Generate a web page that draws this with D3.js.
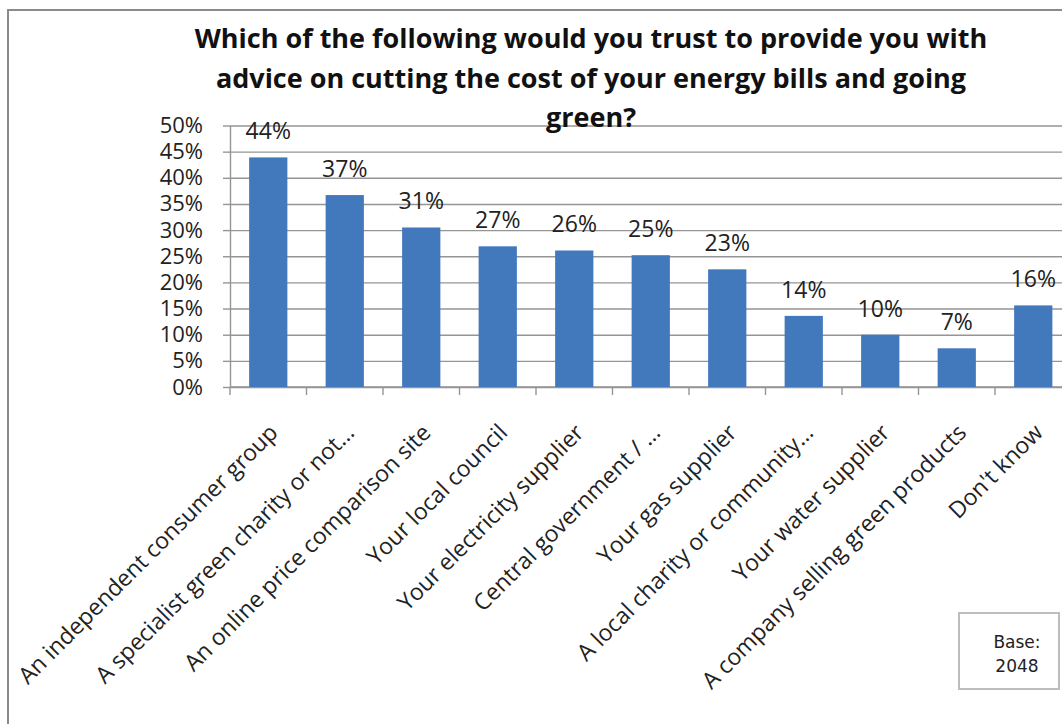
<!DOCTYPE html>
<html>
<head>
<meta charset="utf-8">
<script src="https://cdn.jsdelivr.net/npm/d3@7"></script>
<style>
  body { margin: 0; background: #fff; }
  #chart { font-family: 'Open Sans', sans-serif; }
</style>
</head>
<body>
<div id="chart"></div>
<script>
// data
const categories = [
	'An independent consumer group',
	'A specialist green charity or not\u2026',
	'An online price comparison site',
	'Your local council',
	'Your electricity supplier',
	'Central government / \u2026',
	'Your gas supplier',
	'A local charity or community\u2026',
	'Your water supplier',
	'A company selling green products',
	"Don't know"
];
const values = [43.9, 36.7, 30.5, 26.9, 26.1, 25.2, 22.5, 13.6, 10.0, 7.4, 15.6];
const yTicks = [0, 5, 10, 15, 20, 25, 30, 35, 40, 45, 50];
const titleLines = [
	'Which of the following would you trust to provide you with',
	'advice on cutting the cost of your energy bills and going',
	'green?'
];
const baseLines = ['Base:', '2048'];

const W = 1062, H = 724;
const plot = { left: 230, top: 125.5, bottom: 387, step: 76.5 };
const plotRight = plot.left + plot.step * categories.length;

const svg = d3.select('#chart').append('svg')
	.attr('width', W)
	.attr('height', H);

// outer chart border (runs off the right and bottom of the picture)
svg.append('rect')
	.attr('x', 8)
	.attr('y', 10)
	.attr('width', 1200)
	.attr('height', 900)
	.attr('fill', '#fff')
	.attr('stroke', '#8a8a8a')
	.attr('stroke-width', 2);

const xScale = d3.scaleBand()
	.domain(categories)
	.range([plot.left, plotRight])
	.paddingInner(0.5)
	.paddingOuter(0.25);

const yScale = d3.scaleLinear()
	.domain([0, 50])
	.range([plot.bottom, plot.top]);

// horizontal grid lines
svg.append('g')
	.attr('class', 'grid')
	.attr('transform', `translate(${plot.left}, 0)`)
	.call(d3.axisLeft(yScale)
		.tickValues(yTicks)
		.tickSize(-(plotRight - plot.left))
		.tickFormat('')
	)
	.call(g => g.select('.domain').remove())
	.call(g => g.selectAll('.tick line')
		.attr('stroke', '#959595')
		.attr('stroke-width', 1.4));

// y axis
svg.append('g')
	.attr('class', 'axis')
	.attr('transform', `translate(${plot.left}, 0)`)
	.call(d3.axisLeft(yScale)
		.tickValues(yTicks)
		.tickSize(7)
		.tickSizeOuter(0)
		.tickPadding(20)
		.tickFormat(d => d + '%')
	)
	.call(g => g.select('.domain').attr('stroke', '#959595').attr('stroke-width', 1.4))
	.call(g => g.selectAll('.tick line').attr('stroke', '#959595').attr('stroke-width', 1.4))
	.call(g => g.selectAll('.tick text')
		.attr('fill', '#222')
		.style('font-family', "'Open Sans', sans-serif")
		.style('font-size', '22px'));

// x axis line
svg.append('line')
	.attr('x1', plot.left)
	.attr('x2', plotRight)
	.attr('y1', plot.bottom)
	.attr('y2', plot.bottom)
	.attr('stroke', '#959595')
	.attr('stroke-width', 1.4);

// tick marks between categories
const boundaries = categories.map(c => xScale(c) + xScale.bandwidth() / 2 - xScale.step() / 2);
boundaries.push(plotRight);
svg.append('g')
	.selectAll('line')
	.data(boundaries)
	.enter()
	.append('line')
	.attr('x1', d => d)
	.attr('x2', d => d)
	.attr('y1', plot.bottom)
	.attr('y2', plot.bottom + 8)
	.attr('stroke', '#959595')
	.attr('stroke-width', 1.4);

// category labels, rotated
svg.append('g')
	.selectAll('text')
	.data(categories)
	.enter()
	.append('text')
	.attr('transform', d => `translate(${xScale(d) + xScale.bandwidth() / 2 + 11}, ${plot.bottom + 47}) rotate(-45)`)
	.attr('text-anchor', 'end')
	.attr('fill', '#222')
	.style('font-size', '23px')
	.text(d => d);

// bars
svg.append('g')
	.selectAll('rect')
	.data(values)
	.enter()
	.append('rect')
	.attr('x', (d, i) => xScale(categories[i]))
	.attr('y', d => yScale(d))
	.attr('width', xScale.bandwidth())
	.attr('height', d => plot.bottom - yScale(d))
	.attr('fill', '#4279bd');

// value labels
svg.append('g')
	.selectAll('text')
	.data(values)
	.enter()
	.append('text')
	.attr('x', (d, i) => xScale(categories[i]) + xScale.bandwidth() / 2)
	.attr('y', d => yScale(d) - 18)
	.attr('text-anchor', 'middle')
	.attr('fill', '#222')
	.style('font-size', '23px')
	.text(d => Math.round(d) + '%');

// title
svg.append('text')
	.attr('class', 'title')
	.attr('text-anchor', 'middle')
	.attr('fill', '#111')
	.style('font-size', '27px')
	.style('font-weight', 700)
	.selectAll('tspan')
	.data(titleLines)
	.enter()
	.append('tspan')
	.attr('x', 591)
	.attr('y', (d, i) => 48 + i * 39.5)
	.text(d => d);

// base note box
svg.append('rect')
	.attr('x', 959)
	.attr('y', 613)
	.attr('width', 100)
	.attr('height', 76)
	.attr('fill', '#fff')
	.attr('stroke', '#bdbdbd')
	.attr('stroke-width', 2);

svg.append('g')
	.selectAll('text')
	.data(baseLines)
	.enter()
	.append('text')
	.attr('x', 1017)
	.attr('y', (d, i) => 648 + i * 24)
	.attr('text-anchor', 'middle')
	.attr('fill', '#222')
	.style('font-family', "'DejaVu Sans', sans-serif")
	.style('font-size', '17px')
	.text(d => d);
</script>
</body>
</html>
